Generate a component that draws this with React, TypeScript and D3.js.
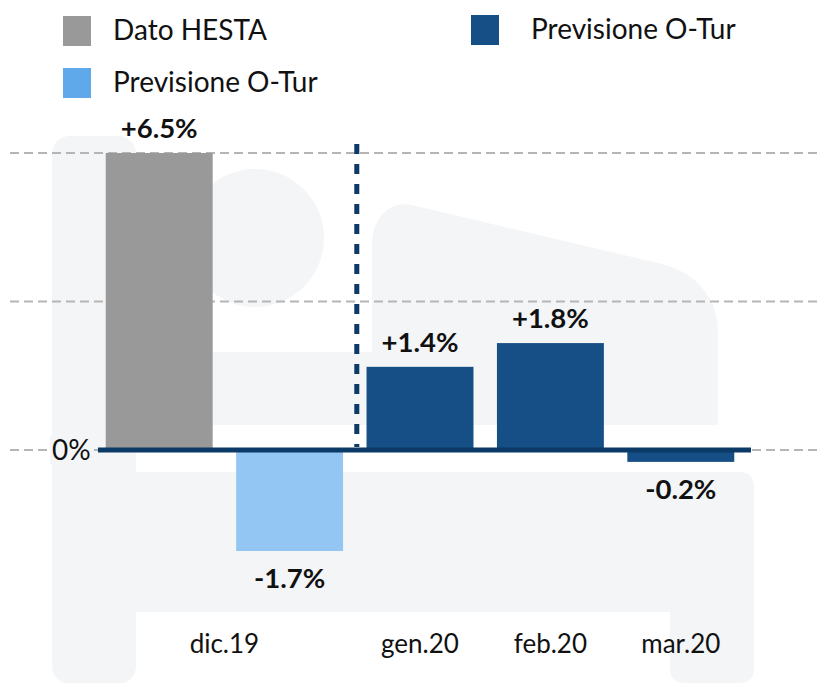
import React from "react";
import * as d3 from "d3";

// ---- data ----
const barKeys = ["dic19-hesta", "dic19-prev", "gen20", "feb20", "mar20"];
const barCategory = ["dic.19", "dic.19", "gen.20", "feb.20", "mar.20"];
const barSeries = ["hesta", "prevDic", "prev", "prev", "prev"];
const barValues = [6.5, -1.7, 1.4, 1.8, -0.2];
const valueLabels = ["+6.5%", "-1.7%", "+1.4%", "+1.8%", "-0.2%"];
const categoryLabels = ["dic.19", "gen.20", "feb.20", "mar.20"];
const yTicks = [0, 2.5, 5];
const yMax = 5;
const legendKeys = ["hesta", "prev", "prevLegend"];
const legendLabels = ["Dato HESTA", "Previsione O-Tur", "Previsione O-Tur"];

const W = 822;
const H = 683;
const FONT = "Lato, 'Open Sans', sans-serif";
const WM = "#f4f5f7";

const colors: Record<string, string> = {
  hesta: "#999999",
  prevDic: "#94c6f4",
  prev: "#154f85",
  prevLegend: "#5fa8e9",
};

export default function App() {
  const x = d3
    .scaleBand<string>()
    .domain(barKeys)
    .range([94, 746])
    .paddingInner(0.18)
    .paddingOuter(0.09);
  const y = d3.scaleLinear().domain([0, yMax]).range([450, 153]);
  const bw = x.bandwidth();

  const legendPos = [
    { lx: 63, ly: 16 },
    { lx: 471, ly: 15 },
    { lx: 63, ly: 68 },
  ];

  const divX = ((x(barKeys[1]) as number) + bw + (x(barKeys[2]) as number)) / 2;

  const catX = (c: string) => {
    const xs = barKeys
      .filter((_, i) => barCategory[i] === c)
      .map((k) => (x(k) as number) + bw / 2);
    return d3.mean(xs) as number;
  };

  return (
    <svg
      width={W}
      height={H}
      style={{ position: "absolute", left: 0, top: 0, background: "#fff" }}
      fontFamily={FONT}
    >
      {/* watermark */}
      <g fill={WM}>
        <rect x={52} y={136} width={84} height={548} rx={18} />
        <circle cx={255} cy={238} r={69} />
        <rect x={136} y={352} width={582} height={73} />
        <path d="M372,425 V244 C372,220 388,200 412,205 L662,264 C698,273 718,300 718,332 V425 Z" />
        <path d="M136,472 H739 Q754,472 754,487 V668 Q754,683 739,683 H685 Q670,683 670,668 V612 H136 Z" />
      </g>

      {/* legend */}
      {legendKeys.map((k, i) => (
        <g key={k + i}>
          <rect
            x={legendPos[i].lx}
            y={legendPos[i].ly}
            width={28}
            height={30}
            fill={colors[k]}
          />
          <text
            x={legendPos[i].lx + 50 + (i === 1 ? 10 : 0)}
            y={legendPos[i].ly + 24}
            fontSize={28}
            fill="#111"
          >
            {legendLabels[i]}
          </text>
        </g>
      ))}

      {/* gridlines */}
      {yTicks.map((t) => (
        <line
          key={t}
          x1={10}
          x2={W}
          y1={y(t)}
          y2={y(t)}
          stroke="#b5b5b5"
          strokeWidth={2}
          strokeDasharray="9,5"
        />
      ))}
      <rect x={50} y={y(0) - 14} width={44} height={28} fill={WM} />
      <text x={52} y={y(0) + 10} fontSize={28} fill="#111">
        0%
      </text>

      {/* bars */}
      {barKeys.map((k, i) => {
        const v = Math.min(barValues[i], yMax);
        const y0 = y(0);
        const y1 = y(v);
        return (
          <rect
            key={k}
            x={x(k)}
            y={Math.min(y0, y1)}
            width={bw}
            height={Math.abs(y1 - y0)}
            fill={colors[barSeries[i]]}
          />
        );
      })}

      {/* zero axis line */}
      <line x1={98} x2={751} y1={y(0)} y2={y(0)} stroke="#0b3a66" strokeWidth={5} />

      {/* divider */}
      <line
        x1={divX + 2}
        x2={divX + 2}
        y1={144}
        y2={447}
        stroke="#0b3a66"
        strokeWidth={5}
        strokeDasharray="10,10"
      />

      {/* value labels */}
      {barKeys.map((k, i) => {
        const v = barValues[i];
        const cx = (x(k) as number) + bw / 2;
        const ty = v >= 0 ? y(Math.min(v, yMax)) - 15 : y(v) + 37;
        return (
          <text
            key={k + "-l"}
            x={cx}
            y={ty}
            textAnchor="middle"
            fontSize={27.5}
            fontWeight={700}
            fill="#111"
          >
            {valueLabels[i]}
          </text>
        );
      })}

      {/* category labels */}
      {categoryLabels.map((c) => (
        <text
          key={c}
          x={catX(c)}
          y={653}
          textAnchor="middle"
          fontSize={26}
          fill="#111"
        >
          {c}
        </text>
      ))}
    </svg>
  );
}
